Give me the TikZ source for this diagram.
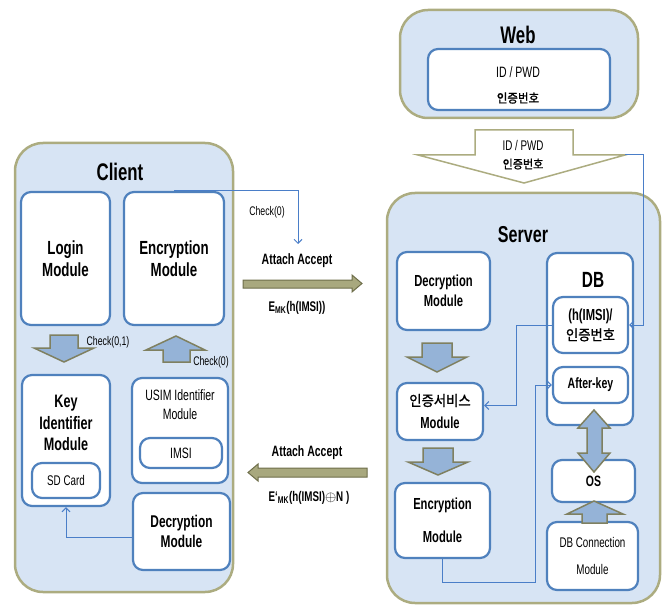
\documentclass[tikz,border=0pt]{standalone}
\usepackage{fontspec}
\setmainfont{Liberation Sans}[FakeStretch=0.7]
\newfontfamily\kr{Noto Sans CJK KR}[FakeBold=1.2,FakeStretch=0.92]
\usetikzlibrary{arrows.meta}
\definecolor{pale}{HTML}{D7E4F4}
\definecolor{rim}{HTML}{ACAC80}
\definecolor{boxline}{HTML}{4F81BD}
\definecolor{blkfill}{HTML}{95B3D7}
\definecolor{blkline}{HTML}{7F8060}
\definecolor{msgfill}{HTML}{A8A87E}
\definecolor{msgline}{HTML}{6E6E4A}
\definecolor{linkblue}{HTML}{4A7EC8}
\begin{document}
\begin{tikzpicture}[x=1pt,y=-1pt,
    outer/.style={draw=rim,line width=2.5pt,fill=pale,rounded corners=28pt},
    box/.style={draw=boxline,line width=2.2pt,fill=white,rounded corners=10pt,
      align=center,inner sep=0pt},
    blk/.style={draw=blkline,line width=1.5pt,fill=blkfill,line join=miter},
    msg/.style={draw=msgline,line width=1pt,fill=msgfill},
    link/.style={draw=linkblue,line width=1pt,-{Straight Barb[length=4pt,width=8pt]}},
    title/.style={font=\bfseries\fontsize{24}{26}\selectfont},
    big/.style={font=\bfseries\fontsize{19}{22}\selectfont},
    mid/.style={font=\bfseries\fontsize{16}{20}\selectfont},
    small/.style={font=\fontsize{14}{16}\selectfont},
    note/.style={font=\fontsize{12.5}{14}\selectfont}]
  \useasboundingbox (0,0) rectangle (670,607);

  % containers
  \node[outer,minimum width=218,minimum height=449] (client) at (124,367.5) {};
  \node[title] (clientT) at (120,172) {Client};
  \node[outer,minimum width=238,minimum height=108] (web) at (519,64) {};
  \node[title] (webT) at (518,35) {Web};
  \node[outer,minimum width=273,minimum height=410] (server) at (523.5,398) {};
  \node[title,font=\bfseries\fontsize{23}{26}\selectfont] (serverT) at (523,235) {Server};

  % client modules
  \node[box,big,minimum width=89,minimum height=133] (login) at (65.5,258.5) {Login\\Module};
  \node[box,big,minimum width=100,minimum height=133] (cenc) at (174,258.5) {Encryption\\Module};
  \node[box,minimum width=88,minimum height=131] (key) at (66,440.5) {};
  \node[big,font=\bfseries\fontsize{18}{21.5}\selectfont,align=center] (keyT) at (66,423) {Key\\Identifier\\Module};
  \node[box,small,minimum width=68,minimum height=35] (sd) at (66,480.5) {SD Card};
  \node[box,minimum width=96,minimum height=105] (usim) at (180,430.5) {};
  \node[small,font=\fontsize{15}{19}\selectfont,align=center] (usimT) at (180,405) {USIM Identifier\\Module};
  \node[box,small,font=\fontsize{15}{17}\selectfont,minimum width=82,minimum height=30] (imsi) at (181,453) {IMSI};
  \node[box,big,font=\bfseries\fontsize{17}{20}\selectfont,minimum width=97,minimum height=77] (cdec) at (181.5,531.5) {Decryption\\Module};

  % web modules
  \node[box,minimum width=182,minimum height=61] (webin) at (519,79.5) {};
  \node[font=\fontsize{15}{17}\selectfont] (webid) at (518,72) {ID / PWD};
  \node[font=\kr\fontsize{12.5}{14}\selectfont] (webkr) at (518,98) {인증번호};

  % server modules
  \node[box,mid,minimum width=93,minimum height=78] (sdec) at (443.5,291) {Decryption\\Module};
  \node[box,mid,minimum width=86,minimum height=57] (auth) at (440,411.5) {{\kr\mdseries\fontsize{14.5}{16}\selectfont 인증서비스}\\[3pt]Module};
  \node[box,mid,font=\bfseries\fontsize{16}{33}\selectfont,minimum width=95,minimum height=75] (senc) at (442.5,520.5) {Encryption\\Module};
  \node[box,minimum width=86,minimum height=172] (db) at (590,339) {};
  \node[title,font=\bfseries\fontsize{22}{24}\selectfont] (dbT) at (593,280) {DB};
  \node[box,mid,minimum width=75,minimum height=56] (hbox) at (590.5,325) {(h(IMSI)/\\{\kr\mdseries\fontsize{14.5}{16}\selectfont 인증번호}};
  \node[box,mid,font=\bfseries\fontsize{15}{17}\selectfont,minimum width=75,minimum height=36] (akey) at (590.5,385) {After-key};
  \node[box,mid,font=\bfseries\fontsize{15}{17}\selectfont,minimum width=83,minimum height=42] (os) at (593.5,481) {OS};
  \node[box,small,font=\fontsize{14}{27}\selectfont,minimum width=91,minimum height=68] (dbc) at (592.5,556) {DB Connection\\Module};

  % block arrows
  \draw[blk] (50,335) -- (78,335) -- (78,348) -- (94,348) -- (64,362) -- (34,348) -- (50,348) -- cycle;
  \draw[blk] (163,362) -- (190,362) -- (190,350) -- (205,350) -- (176,336) -- (146,350) -- (163,350) -- cycle;
  \node[note] (chk01) at (108,342) {Check(0,1)};
  \node[note] (chk0b) at (211,362) {Check(0)};
  \draw[blk] (422,343) -- (452,343) -- (452,357) -- (467,357) -- (437,372) -- (407,357) -- (422,357) -- cycle;
  \draw[blk] (423,448) -- (453,448) -- (453,462) -- (468,462) -- (438,475) -- (408,462) -- (423,462) -- cycle;
  \draw[blk] (594,410) -- (610,428) -- (602,428) -- (602,453) -- (610,453) -- (594,472)
    -- (578,453) -- (587,453) -- (587,428) -- (578,428) -- cycle;
  \draw[blk] (582,523) -- (607,523) -- (607,514) -- (623,514) -- (594,501) -- (567,514) -- (582,514) -- cycle;

  % web to server
  \draw[draw=rim,line width=1.5pt,fill=white] (475,130) -- (573,130) -- (573,155) -- (625,155)
    -- (524,183) -- (418,155) -- (475,155) -- cycle;
  \node[font=\fontsize{14}{16}\selectfont] (arrid) at (523,145) {ID / PWD};
  \node[font=\kr\fontsize{12}{13}\selectfont] (arrkr) at (523,164) {인증번호};
  \coordinate (wtip) at (625,155);

  % messages
  \draw[msg] (243,280) -- (352,280) -- (352,275) -- (362,283.5) -- (352,292) -- (352,288) -- (243,288) -- cycle;
  \node[font=\bfseries\fontsize{15}{17}\selectfont] (att1) at (297,261) {Attach Accept};
  \node[font=\bfseries\fontsize{14}{16}\selectfont] (enc1) at (297,308) {E\textsubscript{MK}(h(IMSI))};
  \draw[msg] (367,468) -- (258,468) -- (258,464) -- (248,472.5) -- (258,481) -- (258,477) -- (367,477) -- cycle;
  \node[font=\bfseries\fontsize{15}{17}\selectfont] (att2) at (307,453) {Attach Accept};
  \node[font=\bfseries\fontsize{14}{16}\selectfont] (enc2) at (309,498) {E`\textsubscript{MK}(h(IMSI)$\oplus$N )};
  \node[note] (chk0a) at (267,212) {Check(0)};

  % links
  \coordinate (chk) at (298,244);
  \coordinate (turn) at (535,582);
  \begin{scope}[link]
    \draw (cenc.north) -| (chk);
    \draw (wtip) -- ++(18,0) |- (hbox.east);
    \draw (hbox.west) -- ++(-35,0) |- ([yshift=6pt]auth.east);
    \draw (senc.south) |- (turn) |- (akey.west);
    \draw ([yshift=-6pt]cdec.west) -| (key.south);
  \end{scope}
\end{tikzpicture}
\end{document}
